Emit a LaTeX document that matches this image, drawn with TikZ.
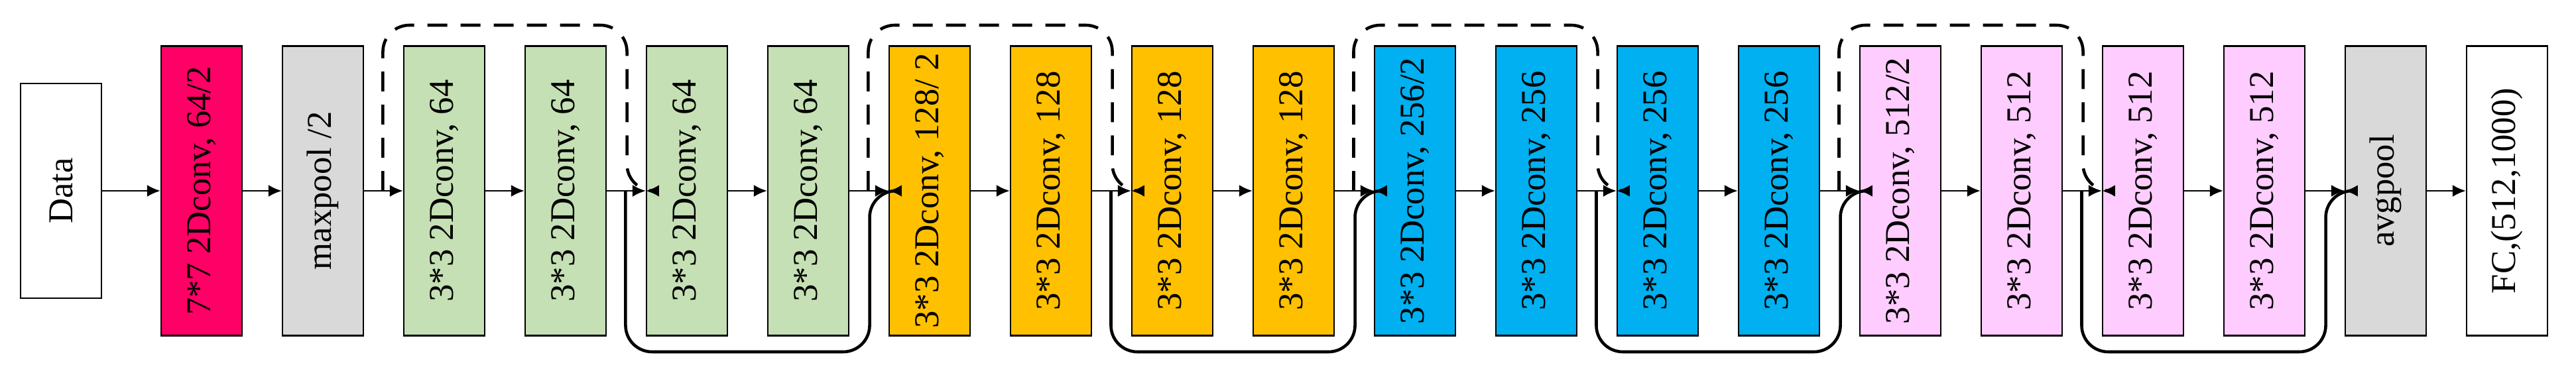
\documentclass[tikz,border=0pt]{standalone}
\usepackage{fontspec}
\setmainfont{Liberation Serif}
\usetikzlibrary{arrows.meta,positioning,calc}
\definecolor{cred}{HTML}{FF0066}
\definecolor{cgray}{HTML}{D9D9D9}
\definecolor{cgreen}{HTML}{C5E0B4}
\definecolor{corange}{HTML}{FFC000}
\definecolor{cblue}{HTML}{00B0F0}
\definecolor{cpink}{HTML}{FFCCFF}
\begin{document}
\begin{tikzpicture}[
    blk/.style={rectangle, draw, line width=0.6pt, rotate=90, minimum width=4.37cm, minimum height=1.22cm, inner sep=0pt, font=\fontsize{15}{18}\selectfont},
    arrow/.style={-{Latex[length=0.2cm,width=0.18cm]}, line width=0.8pt},
    skipline/.style={-{Latex[length=0.2cm,width=0.18cm]}, line width=1.3pt, rounded corners=0.4cm},
    dashskip/.style={skipline, dash pattern=on 0.3cm off 0.2cm}
]
    \useasboundingbox (0,0) rectangle (38.85,5.74);

    % Entree
    \node[blk, minimum width=3.24cm, fill=white] (data) at (0.92,2.86) {Data};

    % Couches
    \foreach \i/\col/\txt in {0/cred/{7*7 2Dconv, 64/2}, 1/cgray/{maxpool /2},
        2/cgreen/{3*3 2Dconv, 64}, 3/cgreen/{3*3 2Dconv, 64}, 4/cgreen/{3*3 2Dconv, 64}, 5/cgreen/{3*3 2Dconv, 64},
        6/corange/{3*3 2Dconv, 128/ 2}, 7/corange/{3*3 2Dconv, 128}, 8/corange/{3*3 2Dconv, 128}, 9/corange/{3*3 2Dconv, 128},
        10/cblue/{3*3 2Dconv, 256/2}, 11/cblue/{3*3 2Dconv, 256}, 12/cblue/{3*3 2Dconv, 256}, 13/cblue/{3*3 2Dconv, 256},
        14/cpink/{3*3 2Dconv, 512/2}, 15/cpink/{3*3 2Dconv, 512}, 16/cpink/{3*3 2Dconv, 512}, 17/cpink/{3*3 2Dconv, 512},
        18/cgray/{avgpool}, 19/white/{FC,(512,1000)}} {
        \node[blk, fill=\col] (b\i) at (3.04+1.83*\i, 2.86) {\txt};
    }

    % Fleches
    \draw[arrow] (data.south) -- (b0.north);
    \foreach \i [evaluate=\i as \j using int(\i+1)] in {0,...,18} {
        \draw[arrow] (b\i.south) -- (b\j.north);
    }

    % Raccourcis
    \foreach \s in {2,6,10,14} {
        \pgfmathtruncatemacro{\r}{\s+1}
        \pgfmathtruncatemacro{\n}{\s+2}
        \coordinate (dl\s) at ($(b\s.north)+(-0.305,0)$);
        \coordinate (dr\s) at ($(b\r.south)+(0.305,0)$);
        \draw[dashskip] (dl\s) |- ($(dr\s)+(0,2.5)$) -- (dr\s) -- (b\n.north);
    }
    \foreach \s in {4,8,12,16} {
        \pgfmathtruncatemacro{\r}{\s+1}
        \pgfmathtruncatemacro{\n}{\s+2}
        \coordinate (sl\s) at ($(b\s.north)+(-0.305,0)$);
        \coordinate (sr\s) at ($(b\r.south)+(0.305,0)$);
        \draw[skipline] (sl\s) |- ($(sr\s)+(0,-2.43)$) -- (sr\s) -- (b\n.north);
    }
\end{tikzpicture}
\end{document}
